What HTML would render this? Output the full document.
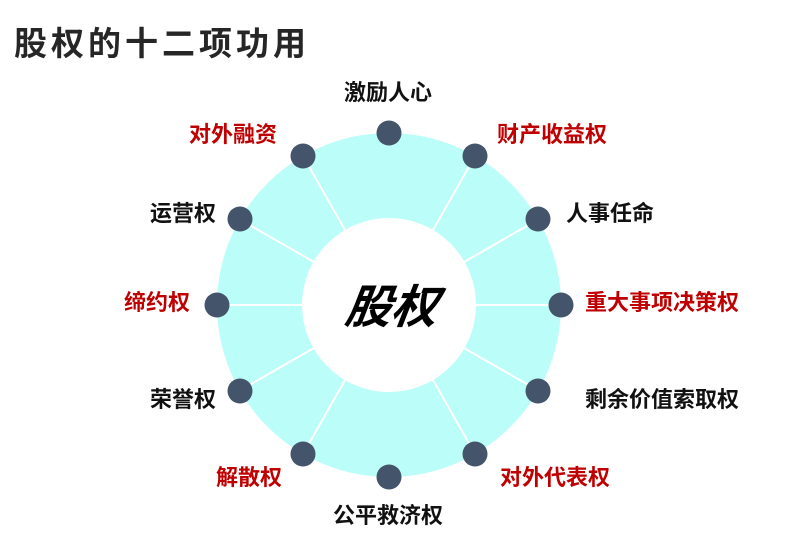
<!DOCTYPE html>
<html><head><meta charset="utf-8"><style>
body{margin:0;width:791px;height:551px;background:#fff;position:relative;overflow:hidden;font-family:"Liberation Sans","Noto Sans CJK SC",sans-serif;}
.t{position:absolute;left:14px;top:17px;font-size:33px;font-weight:bold;color:#262626;letter-spacing:4px;white-space:nowrap;}
.l{position:absolute;font-size:22px;font-weight:bold;white-space:nowrap;line-height:26px;margin-top:-13px;}
.c{transform:translateX(-50%)}
.r{color:#c00000}.k{color:#111}
</style></head><body>
<div class="t">股权的十二项功用</div>
<svg width="791" height="551" style="position:absolute;left:0;top:0">
<circle cx="389" cy="305" r="172" fill="#bbfdf8"/>
<circle cx="389" cy="305" r="87" fill="#fff"/>
<g stroke="#fff" stroke-width="2">
<line x1="216" y1="305" x2="302" y2="305"/><line x1="476" y1="305" x2="562" y2="305"/>
<line x1="239" y1="219" x2="314" y2="262"/><line x1="539" y1="219" x2="464" y2="262"/>
<line x1="239" y1="391" x2="314" y2="348"/><line x1="539" y1="391" x2="464" y2="348"/>
<line x1="303" y1="156" x2="345" y2="230"/><line x1="475" y1="156" x2="433" y2="230"/>
<line x1="303" y1="454" x2="345" y2="380"/><line x1="475" y1="454" x2="433" y2="380"/>
</g>
<g fill="#44546a">
<circle cx="389" cy="133" r="12.5"/><circle cx="475" cy="156" r="12.5"/><circle cx="538" cy="219" r="12.5"/>
<circle cx="561" cy="305" r="12.5"/><circle cx="538" cy="391" r="12.5"/><circle cx="475" cy="454" r="12.5"/>
<circle cx="389" cy="477" r="12.5"/><circle cx="303" cy="454" r="12.5"/><circle cx="240" cy="391" r="12.5"/>
<circle cx="217" cy="305" r="12.5"/><circle cx="240" cy="219" r="12.5"/><circle cx="303" cy="156" r="12.5"/>
</g>
<text x="392" y="323" text-anchor="middle" font-size="46" font-weight="bold" font-style="italic" font-family="Liberation Sans,Noto Sans CJK SC,sans-serif" transform="skewX(-8) translate(43,0)">股权</text>
</svg>
<div class="l k c" style="left:388px;top:93px">激励人心</div>
<div class="l r" style="left:497px;top:135px">财产收益权</div>
<div class="l k" style="left:566px;top:214px">人事任命</div>
<div class="l r" style="left:585px;top:303px">重大事项决策权</div>
<div class="l k" style="left:585px;top:400px">剩余价值索取权</div>
<div class="l r" style="left:500px;top:478px">对外代表权</div>
<div class="l k c" style="left:388px;top:516px">公平救济权</div>
<div class="l r" style="right:509px;top:478px">解散权</div>
<div class="l k" style="right:575px;top:400px">荣誉权</div>
<div class="l r" style="right:601px;top:303px">缔约权</div>
<div class="l k" style="right:575px;top:214px">运营权</div>
<div class="l r" style="right:514px;top:135px">对外融资</div>
</body></html>
